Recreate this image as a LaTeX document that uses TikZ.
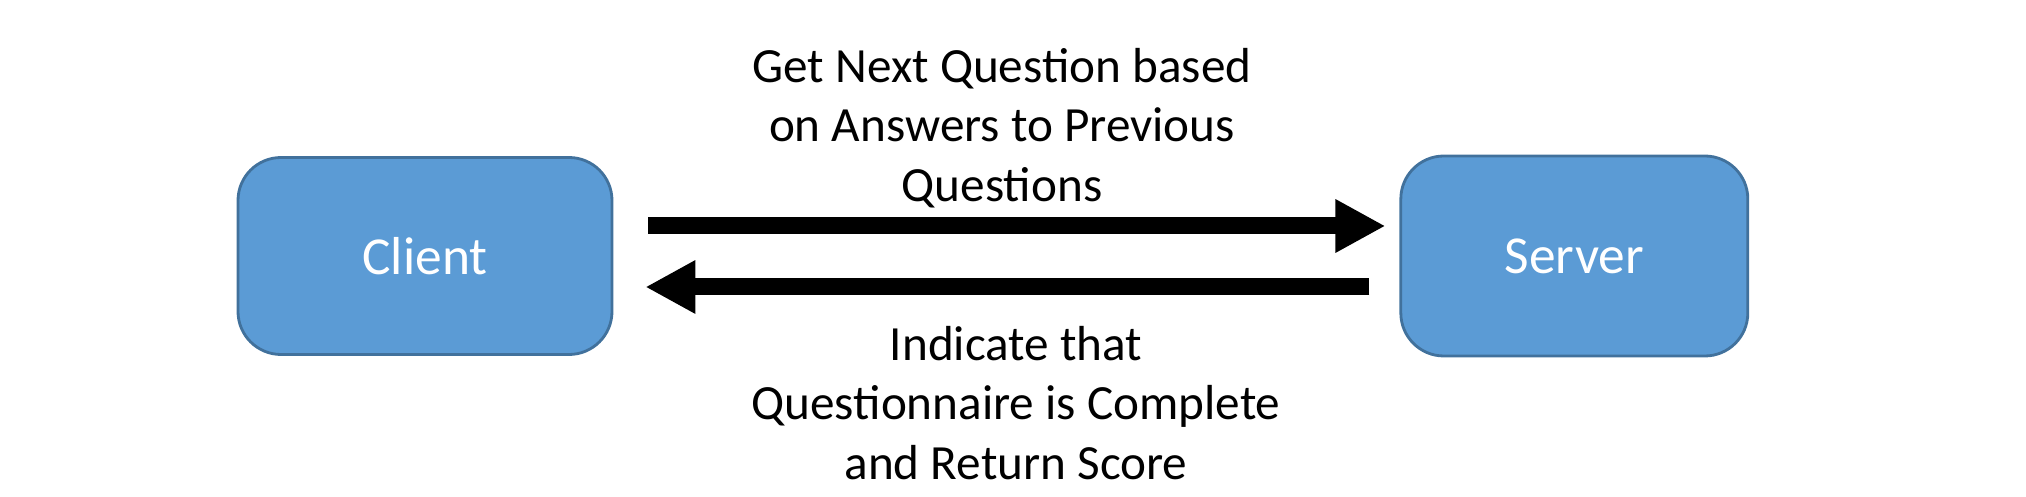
\documentclass[tikz,border=0pt]{standalone}
\usepackage{fontspec}
\setmainfont{Carlito}
\usetikzlibrary{positioning,arrows.meta}
\definecolor{QaBlue}{RGB}{91,155,213}
\definecolor{QaEdge}{RGB}{65,113,156}
\tikzset{
  qa box/.style={
    draw=QaEdge,
    fill=QaBlue,
    line width=0.8pt,
    rounded corners=0.43cm,
    align=center,
    text=white,
    font=\fontsize{15.2}{18}\selectfont
  },
  qa arrow/.style={-{Triangle[length=0.5cm,width=0.5cm]}, line width=0.17cm, black},
  qa label/.style={font=\fontsize{14}{17}\selectfont, text=black, align=center}
}
\begin{document}
\begin{tikzpicture}
\useasboundingbox (0,0) rectangle (20.26,-4.97);
\node[qa box, minimum width=3.74cm, minimum height=1.97cm] (client) at (4.25,-2.56) {Client};
\node[qa box, minimum width=3.47cm, minimum height=2.0cm, right=7.86cm of client] (server) {Server};
\node[qa label] (ask) at (10.02,-1.28) {Get Next Question based\\on Answers to Previous\\Questions};
\node[qa label] (done) at (10.16,-4.03) {Indicate that\\Questionnaire is Complete\\and Return Score};
\draw[qa arrow] ([xshift=0.35cm,yshift=0.3cm]client.east)--([xshift=-0.14cm,yshift=0.3cm]server.west);
\draw[qa arrow] ([xshift=-0.30cm,yshift=-0.31cm]server.west)--([xshift=0.32cm,yshift=-0.31cm]client.east);
\end{tikzpicture}
\end{document}
